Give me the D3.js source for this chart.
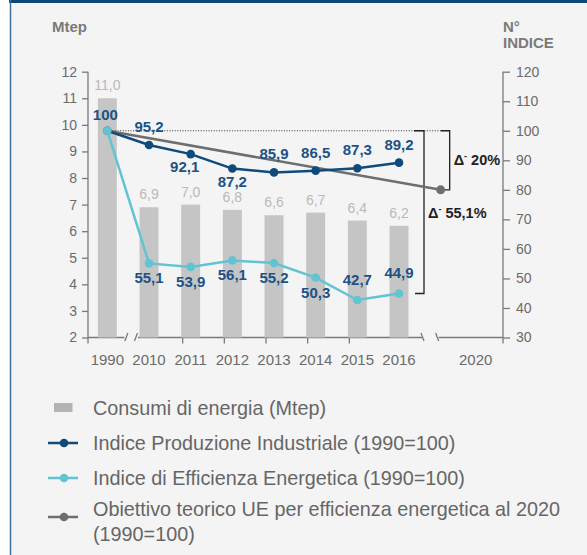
<!DOCTYPE html>
<html>
<head>
<meta charset="utf-8">
<script src="https://cdn.jsdelivr.net/npm/d3@7"></script>
<style>
  html, body { margin: 0; padding: 0; background: #ffffff; }
  svg { display: block; font-family: "Liberation Sans", Arial, Helvetica, sans-serif; }
</style>
</head>
<body>
<svg id="chart" width="587" height="555"></svg>
<script>
// Categories on the x axis (1990, the 2010-2016 series and the 2020 target)
const years = ["1990", "2010", "2011", "2012", "2013", "2014", "2015", "2016", "2020"];
// Energy consumption, Mtep (left axis)
const consumi = [11.0, 6.9, 7.0, 6.8, 6.6, 6.7, 6.4, 6.2];
// Industrial production index, 1990 = 100 (right axis)
const produzione = [100, 95.2, 92.1, 87.2, 85.9, 86.5, 87.3, 89.2];
// Energy efficiency index, 1990 = 100 (right axis)
const efficienza = [100, 55.1, 53.9, 56.1, 55.2, 50.3, 42.7, 44.9];
// EU theoretical target for 2020
const obiettivoAnni = ["1990", "2020"];
const obiettivo = [100, 80];
// Axis ticks
const ticksMtep = [2, 3, 4, 5, 6, 7, 8, 9, 10, 11, 12];
const ticksIndice = [30, 40, 50, 60, 70, 80, 90, 100, 110, 120];
// Legend entries
const legendItems = [
  "Consumi di energia (Mtep)",
  "Indice Produzione Industriale (1990=100)",
  "Indice di Efficienza Energetica (1990=100)",
  "Obiettivo teorico UE per efficienza energetica al 2020 (1990=100)"
];

const C = {
  bg: "#f4f4f4", frame: "#0c4777", frameSide: "#3b6f9e",
  axis: "#7a7a7a", tickText: "#6b6b6b", title: "#7a7a7a",
  bar: "#c5c5c5", barText: "#b9b9b9",
  prod: "#0f4a7b", eff: "#62c4d2", target: "#6e6e6e",
  label: "#1c5286", note: "#222222", legendText: "#666666", legendBar: "#b3b3b3"
};

const svg = d3.select("#chart");
const fmt = v => d3.format(".1f")(v).replace(".", ",");

// Panel background and frame
svg.append("rect").attr("x", 10).attr("y", 0).attr("width", 577).attr("height", 555).attr("fill", C.bg);
svg.append("rect").attr("x", 9).attr("y", 0).attr("width", 578).attr("height", 3).attr("fill", C.frame);
svg.append("line").attr("x1", 10.5).attr("x2", 10.5).attr("y1", 0).attr("y2", 555)
  .attr("stroke", C.frameSide).attr("stroke-width", 1.5);

// Plot geometry
const plotTop = 71.7, plotBottom = 337.5, axL = 88, axR = 503;
const x = d3.scaleBand().domain(years).range([86.5, 461.5]).paddingInner(0.545).paddingOuter(0.2725);
const cx = d => x(d) + x.bandwidth() / 2;
const yL = d3.scaleLinear().domain([2, 12]).range([plotBottom, plotTop]);
const yR = d3.scaleLinear().domain([30, 120]).range([plotBottom, plotTop]);

// Axis titles
svg.append("text").attr("x", 52).attr("y", 32).attr("fill", C.title)
  .attr("font-size", 15).attr("font-weight", "bold").text("Mtep");
svg.append("text").attr("x", axR).attr("y", 32).attr("fill", C.title)
  .attr("font-size", 15).attr("font-weight", "bold").text("N°");
svg.append("text").attr("x", axR).attr("y", 48).attr("fill", C.title)
  .attr("font-size", 15).attr("font-weight", "bold").text("INDICE");

// Left axis
const gL = svg.append("g").attr("transform", `translate(${axL},0)`)
  .call(d3.axisLeft(yL).tickValues(ticksMtep).tickSize(6).tickPadding(5).tickFormat(d3.format("d")));
gL.select(".domain").remove();
gL.selectAll("line").attr("stroke", C.axis).attr("stroke-width", 1.3);
gL.selectAll("text").attr("fill", C.tickText).attr("font-size", 14).attr("font-family", null);
svg.append("line").attr("x1", axL).attr("x2", axL).attr("y1", plotTop).attr("y2", plotBottom + 6)
  .attr("stroke", C.axis).attr("stroke-width", 1.3);

// Right axis
const gR = svg.append("g").attr("transform", `translate(${axR},0)`)
  .call(d3.axisRight(yR).tickValues(ticksIndice).tickSize(7).tickPadding(6).tickFormat(d3.format("d")));
gR.select(".domain").remove();
gR.selectAll("line").attr("stroke", C.axis).attr("stroke-width", 1.3);
gR.selectAll("text").attr("fill", C.tickText).attr("font-size", 14).attr("font-family", null);
svg.append("line").attr("x1", axR).attr("x2", axR).attr("y1", plotTop).attr("y2", plotBottom + 6)
  .attr("stroke", C.axis).attr("stroke-width", 1.3);

// Bottom axis with breaks after 1990 and after 2016
const brk1 = [cx("1990") + 17, cx("2010") - 11];
const brk2 = [cx("2016") + 24, cx("2020") - 2];
const axisG = svg.append("g").attr("stroke", C.axis).attr("stroke-width", 1.3).attr("fill", "none");
[[axL, brk1[0]], [brk1[1], brk2[0]], [brk2[1], axR]].forEach(([a, b]) => {
  axisG.append("line").attr("x1", a).attr("x2", b).attr("y1", plotBottom).attr("y2", plotBottom);
});
// slanted break marks
[brk1[0] + 2, brk1[1] - 2].forEach(bx => {
  axisG.append("line").attr("x1", bx - 1.5).attr("x2", bx + 1.5).attr("y1", plotBottom + 3.5).attr("y2", plotBottom - 4.5);
});
[brk2[0] - 0.5, brk2[1] - 1.5].forEach(bx => {
  axisG.append("line").attr("x1", bx - 1.5).attr("x2", bx + 1.5).attr("y1", plotBottom - 4.5).attr("y2", plotBottom + 3.5);
});
// small tick marks under the inner years
years.slice(2, 7).forEach(yr => {
  axisG.append("line").attr("x1", cx(yr) - 8).attr("x2", cx(yr) - 8).attr("y1", plotBottom).attr("y2", plotBottom + 6);
});
// year labels
svg.append("g").selectAll("text").data(years).join("text")
  .attr("x", d => d === "2020" ? cx(d) + 35 : cx(d))
  .attr("y", 365).attr("text-anchor", "middle").attr("fill", C.tickText)
  .attr("font-size", 15).text(d => d);

// Bars: energy consumption
const barData = consumi.map((v, i) => ({ year: years[i], v }));
svg.append("g").selectAll("rect").data(barData).join("rect")
  .attr("x", d => x(d.year)).attr("width", x.bandwidth())
  .attr("y", d => yL(d.v)).attr("height", d => yL(2) - yL(d.v))
  .attr("fill", C.bar);
svg.append("g").selectAll("text").data(barData).join("text")
  .attr("x", d => cx(d.year)).attr("y", d => yL(d.v) - 8)
  .attr("text-anchor", "middle").attr("fill", C.barText).attr("font-size", 14)
  .text(d => fmt(d.v));

// Reference level 100 (dotted) and brackets
const y100 = yR(100);
const b1 = cx("2016") + 25, b2 = cx("2020") + 9;
svg.append("line").attr("x1", cx("1990") + 5).attr("x2", cx("2020")).attr("y1", y100).attr("y2", y100)
  .attr("stroke", "#333").attr("stroke-width", 1).attr("stroke-dasharray", "1,1.6");
const br = svg.append("g").attr("fill", "none").attr("stroke", "#222").attr("stroke-width", 1.3);
br.append("path").attr("d", `M${b1 - 10},${y100}H${b1}V${yR(efficienza[7])}H${b1 - 9}`);
br.append("path").attr("d", `M${cx("2020")},${y100}H${b2}V${yR(obiettivo[1])}H${cx("2020")}`);

function delta(xp, yp, txt) {
  const t = svg.append("text").attr("x", xp).attr("y", yp).attr("fill", C.note)
    .attr("font-size", 14.5).attr("font-weight", "bold");
  t.append("tspan").text("Δ");
  t.append("tspan").attr("font-size", 9).attr("dy", -6).text("-");
  t.append("tspan").attr("dy", 6).text(" " + txt);
}
delta(b2 + 4, (y100 + yR(obiettivo[1])) / 2 + 5, "20%");
delta(b1 + 4, (y100 + yR(efficienza[7])) / 2 + 6, "55,1%");

// Target line
const line = d3.line().x(d => cx(d.year)).y(d => yR(d.v));
const targetData = obiettivo.map((v, i) => ({ year: obiettivoAnni[i], v }));
svg.append("path").datum(targetData).attr("d", line).attr("fill", "none")
  .attr("stroke", C.target).attr("stroke-width", 2.5);
svg.append("circle").attr("cx", cx("2020")).attr("cy", yR(obiettivo[1])).attr("r", 4.5).attr("fill", C.target);

// Industrial production index
const prodData = produzione.map((v, i) => ({ year: years[i], v }));
svg.append("path").datum(prodData).attr("d", line).attr("fill", "none")
  .attr("stroke", C.prod).attr("stroke-width", 2.5);
svg.append("g").selectAll("circle").data(prodData).join("circle")
  .attr("cx", d => cx(d.year)).attr("cy", d => yR(d.v)).attr("r", 4.3).attr("fill", C.prod);

// Energy efficiency index
const effData = efficienza.map((v, i) => ({ year: years[i], v }));
svg.append("path").datum(effData).attr("d", line).attr("fill", "none")
  .attr("stroke", C.eff).attr("stroke-width", 2.5);
svg.append("g").selectAll("circle").data(effData).join("circle")
  .attr("cx", d => cx(d.year)).attr("cy", d => yR(d.v)).attr("r", 4.3).attr("fill", C.eff);

// Value labels
const prodBelow = new Set(["2011", "2012"]);
svg.append("g").selectAll("text").data(prodData).join("text")
  .attr("x", d => cx(d.year) + (d.year === "1990" ? -2 : d.year === "2011" ? -6 : 0))
  .attr("y", d => yR(d.v) + (prodBelow.has(d.year) ? 18 : (d.year === "1990" ? -11 : -13)))
  .attr("text-anchor", "middle").attr("fill", C.label)
  .attr("font-size", 15).attr("font-weight", "bold")
  .text(d => d.year === "1990" ? d3.format("d")(d.v) : fmt(d.v));
const effAbove = new Set(["2015", "2016"]);
svg.append("g").selectAll("text").data(effData.slice(1)).join("text")
  .attr("x", d => cx(d.year))
  .attr("y", d => yR(d.v) + (effAbove.has(d.year) ? -15 : 20))
  .attr("text-anchor", "middle").attr("fill", C.label)
  .attr("font-size", 15).attr("font-weight", "bold")
  .text(d => fmt(d.v));

// Legend
const lg = svg.append("g");
const rowY = [408, 443, 478, 517];
const swatchColors = [null, C.prod, C.eff, C.target];
legendItems.forEach((label, i) => {
  const cy = rowY[i];
  if (i === 0) {
    lg.append("rect").attr("x", 54).attr("y", cy - 5).attr("width", 18.5).attr("height", 9).attr("fill", C.legendBar);
  } else {
    lg.append("line").attr("x1", 48).attr("x2", 78).attr("y1", cy).attr("y2", cy)
      .attr("stroke", swatchColors[i]).attr("stroke-width", 2.5);
    lg.append("circle").attr("cx", 64).attr("cy", cy).attr("r", 4.3).attr("fill", swatchColors[i]);
  }
  const t = lg.append("text").attr("x", 93).attr("y", i === 3 ? cy - 1 : cy + 6.5)
    .attr("fill", C.legendText).attr("font-size", 19.8);
  if (i === 3) {
    t.append("tspan").attr("x", 93).text("Obiettivo teorico UE per efficienza energetica al 2020");
    t.append("tspan").attr("x", 93).attr("dy", 24.5).text("(1990=100)");
  } else {
    t.text(label);
  }
});
</script>
</body>
</html>
